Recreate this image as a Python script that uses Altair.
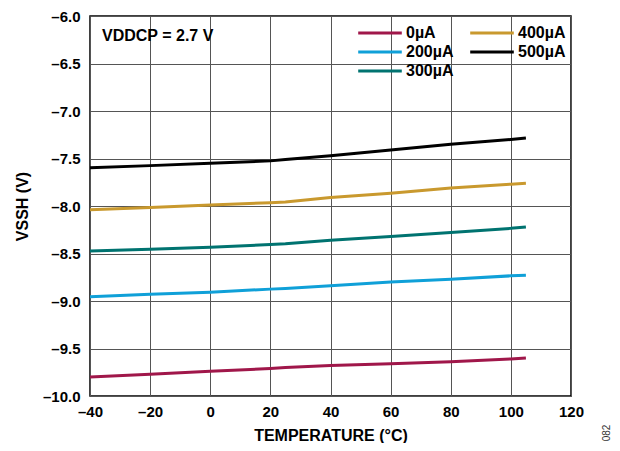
import altair as alt
import pandas as pd

temps = [-40, -20, 0, 20, 25, 40, 60, 80, 100, 105]
series_names = ["0µA", "200µA", "300µA", "400µA", "500µA"]
v_0 = [-9.80, -9.77, -9.74, -9.71, -9.70, -9.68, -9.66, -9.64, -9.61, -9.60]
v_200 = [-8.955, -8.93, -8.907, -8.875, -8.868, -8.84, -8.80, -8.77, -8.735, -8.728]
v_300 = [-8.475, -8.455, -8.435, -8.405, -8.398, -8.36, -8.32, -8.28, -8.235, -8.22]
v_400 = [-8.04, -8.015, -7.99, -7.965, -7.958, -7.91, -7.865, -7.81, -7.77, -7.76]
v_500 = [-7.597, -7.575, -7.55, -7.525, -7.51, -7.47, -7.41, -7.35, -7.30, -7.285]
colors = ["#A0174A", "#0FA0D8", "#007370", "#C9992E", "#000000"]

rows = []
for name, vals in zip(series_names, [v_0, v_200, v_300, v_400, v_500]):
    for t, v in zip(temps, vals):
        rows.append({"temp": t, "v": v, "series": name})
df = pd.DataFrame(rows)

FONT = "Liberation Sans"

xscale = alt.Scale(domain=[-40, 120], nice=False, zero=False)
yscale = alt.Scale(domain=[-10, -6], nice=False, zero=False)

lines = alt.Chart(df).mark_line(strokeWidth=3, clip=True).encode(
    x=alt.X("temp:Q", scale=xscale,
            axis=alt.Axis(title="TEMPERATURE (°C)", values=list(range(-40, 121, 20)),
                          labelFlush=False,
                          labelExpr="datum.value < 0 ? '–' + format(abs(datum.value), 'd') : format(datum.value, 'd')")),
    y=alt.Y("v:Q", scale=yscale,
            axis=alt.Axis(title="VSSH (V)", values=[-10, -9.5, -9, -8.5, -8, -7.5, -7, -6.5, -6],
                          labelFlush=False,
                          labelExpr="'–' + format(abs(datum.value), '.1f')")),
    color=alt.Color("series:N",
                    scale=alt.Scale(domain=series_names, range=colors),
                    legend=alt.Legend(title=None, orient="none", legendX=282, legendY=9,
                                      columns=2, symbolType="M-4.36,0H4.36", symbolSize=100,
                                      symbolStrokeWidth=3, labelFont=FONT, labelFontSize=16,
                                      labelFontWeight="bold", labelColor="#000",
                                      columnPadding=10, rowPadding=3, labelOffset=18,
                                      symbolOffset=0, padding=0)),
)

ann_df = pd.DataFrame({"temp": [-36], "v": [-6.21], "label": ["VDDCP = 2.7 V"]})
ann = alt.Chart(ann_df).mark_text(font=FONT, fontSize=16, fontWeight="bold", align="left",
                                  baseline="middle", color="#000").encode(
    x=alt.X("temp:Q", scale=xscale), y=alt.Y("v:Q", scale=yscale), text="label:N")

code_df = pd.DataFrame({"label": ["082"]})
code = alt.Chart(code_df).mark_text(font=FONT, fontSize=10, angle=270, align="center",
                                    baseline="middle", color="#333").encode(
    x=alt.value(517), y=alt.value(417), text="label:N")

chart = alt.layer(lines, ann, code).properties(
    width=481, height=380,
    autosize=alt.AutoSizeParams(type="none"),
    padding={"left": 82, "top": 8, "right": 41, "bottom": 47},
).configure_view(stroke="#000", strokeWidth=1.5).configure_axis(
    grid=True, gridColor="#555", gridWidth=1, domain=False, ticks=False,
    labelFont=FONT, labelFontSize=15, labelFontWeight="bold", labelColor="#000",
    titleFont=FONT, titleFontSize=16, titleFontWeight="bold", titleColor="#000",
).configure_axisX(labelPadding=8, titlePadding=8).configure_axisY(labelPadding=10, titlePadding=12)

chart.save("out.html", embed_options={"renderer": "svg", "actions": False})
